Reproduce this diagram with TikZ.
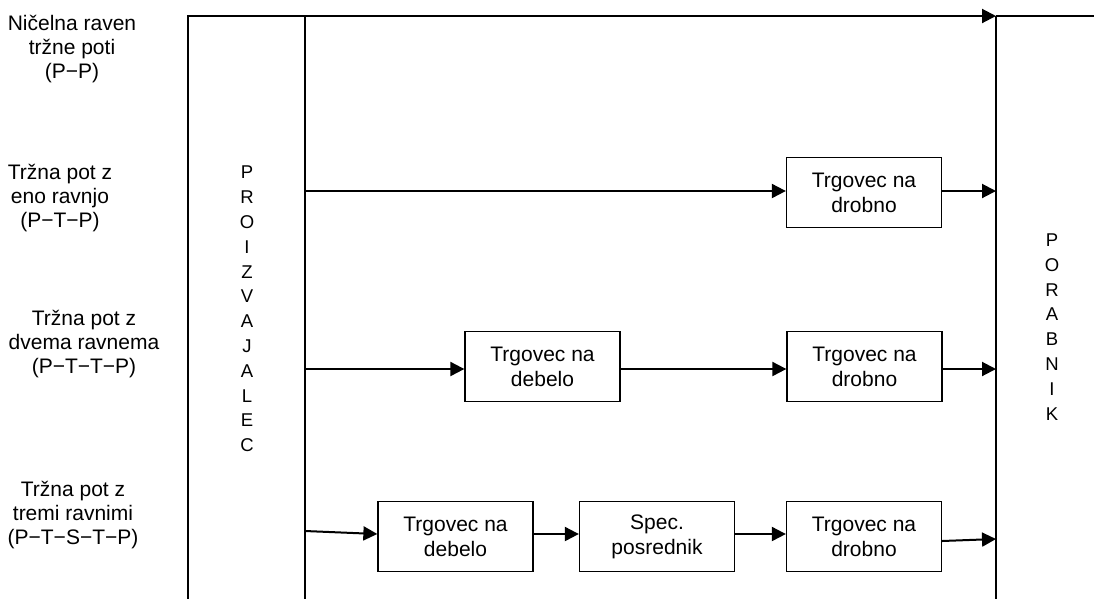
\documentclass[tikz,border=0pt]{standalone}
\usepackage{fontspec}
\setmainfont{Liberation Sans}
\usetikzlibrary{arrows.meta}
\begin{document}
\begin{tikzpicture}[x=1pt,y=-1pt,
  thinline/.style={line width=1.3pt},
  arr/.style={line width=2pt,-{Triangle[length=14pt,width=14pt]}},
  stage/.style={draw,line width=1.3pt,minimum width=155pt,minimum height=70pt,inner sep=0pt,align=center,font=\fontsize{21}{25}\selectfont},
  lvl/.style={align=center,inner sep=0pt,font=\fontsize{21}{24}\selectfont},
  vert/.style={align=center,inner sep=0pt,font=\fontsize{18.5}{24.8}\selectfont}]
\useasboundingbox (0,0) rectangle (1094,598);
% frame lines
\coordinate (oL) at (188,16);
\coordinate (oLb) at (188,600);
\coordinate (pT) at (305,16);
\coordinate (pB) at (305,600);
\coordinate (cT) at (996,16);
\coordinate (cB) at (996,600);
\coordinate (rEnd) at (1094,16);
\draw[thinline] (oLb) -- (oL) -- (pT);
\draw[thinline] (pT) -- (pB);
\draw[thinline] (cT) -- (cB);
\draw[thinline] (cT) -- (rEnd);
% side labels
\node[vert] (prod) at (247,309) {P\\R\\O\\I\\Z\\V\\A\\J\\A\\L\\E\\C};
\node[vert] (cons) at (1052,327) {P\\O\\R\\A\\B\\N\\I\\K};
% level labels
\node[lvl] (l1) at (72,49) {Ničelna raven\\tržne poti\\(P−P)};
\node[lvl] (l2) at (60,198) {Tržna pot z\\eno ravnjo\\(P−T−P)};
\node[lvl] (l3) at (84,344) {Tržna pot z\\dvema ravnema\\(P−T−T−P)};
\node[lvl] (l4) at (73,515) {Tržna pot z\\tremi ravnimi\\(P−T−S−T−P)};
% row 1
\draw[arr] (pT) -- (cT);
% row 2
\coordinate (p2) at (305,191);
\coordinate (c2) at (996,191);
\node[stage] (r2a) at (864,192.5) {Trgovec na\\drobno};
\draw[arr] (p2) -- (r2a.west |- p2);
\draw[arr] (r2a.east |- p2) -- (c2);
% row 3
\coordinate (p3) at (305,369);
\coordinate (c3) at (996,369);
\node[stage] (r3a) at (542.5,366.5) {Trgovec na\\debelo};
\node[stage] (r3b) at (864.5,366.5) {Trgovec na\\drobno};
\draw[arr] (p3) -- (r3a.west |- p3);
\draw[arr] (r3a.east |- p3) -- (r3b.west |- p3);
\draw[arr] (r3b.east |- p3) -- (c3);
% row 4
\coordinate (p4) at (305,531);
\coordinate (c4) at (996,539);
\node[stage] (r4a) at (455.5,536.5) {Trgovec na\\debelo};
\node[stage] (r4b) at (657,536.5) {Spec.\\posrednik};
\node[stage] (r4c) at (864,536.5) {Trgovec na\\drobno};
\coordinate (r4aIn) at ([yshift=2.5pt]r4a.west);
\coordinate (r4cOut) at ([yshift=-4.5pt]r4c.east);
\draw[arr] (p4) -- (r4aIn);
\draw[arr] ([yshift=2.5pt]r4a.east) -- ([yshift=2.5pt]r4b.west);
\draw[arr] ([yshift=2.5pt]r4b.east) -- ([yshift=2.5pt]r4c.west);
\draw[arr] (r4cOut) -- (c4);
\end{tikzpicture}
\end{document}
